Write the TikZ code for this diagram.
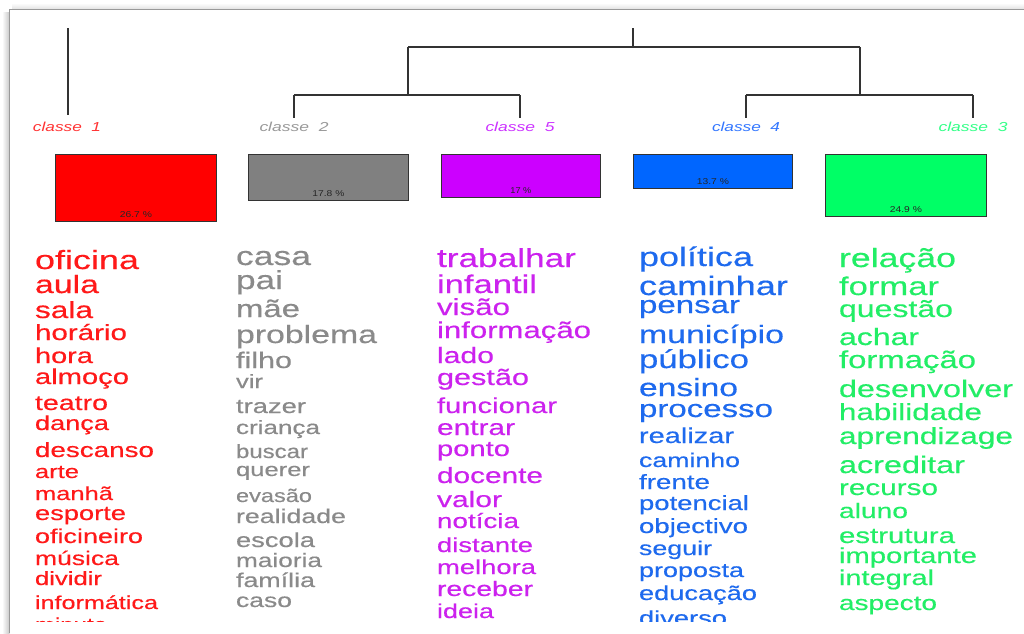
\documentclass[tikz,border=0pt]{standalone}
\usepackage{fontspec}
\setmainfont{Liberation Sans}
\newfontfamily\wfont[FakeBold=0.35]{Liberation Sans}
\usepackage{graphicx}
\definecolor{bred}{HTML}{FF0000}
\definecolor{bgray}{HTML}{808080}
\definecolor{bpurp}{HTML}{CC00FF}
\definecolor{bblue}{HTML}{0066FF}
\definecolor{bgreen}{HTML}{00FF66}
\definecolor{tred}{HTML}{FF1919}
\definecolor{tgray}{HTML}{8A8A8A}
\definecolor{tpurp}{HTML}{CC22EE}
\definecolor{tblue}{HTML}{1E6AEE}
\definecolor{tgreen}{HTML}{22EE66}
\definecolor{lred}{HTML}{FF3333}
\definecolor{lgray}{HTML}{999999}
\definecolor{lpurp}{HTML}{CC33FF}
\definecolor{lblue}{HTML}{3377FF}
\definecolor{lgreen}{HTML}{33FF88}
\def\vratio{1.35}
\tikzset{
  wordnode/.style={anchor=base west, inner sep=0pt, outer sep=0pt},
  clabel/.style={anchor=base, inner sep=0pt, outer sep=0pt},
  clbox/.style={draw=black!80, line width=0.8pt, anchor=north west, inner sep=0pt},
  pct/.style={inner sep=0pt, text=black!85},
  dend/.style={draw=black!80, line width=1.1pt},
}
% colour, name, x, baseline, width, horizontal em, text
\newcommand{\Wrd}[7]{\node[wordnode,text=#1] (#2) at (#3,#4) {\pgfmathsetmacro\fsz{#6/\vratio}\resizebox{#5pt}{\height}{\wfont\fontsize{\fsz}{\fsz}\selectfont #7}};}
\newcommand{\Sq}[3]{\resizebox{#1pt}{\height}{\fontsize{#2}{#2}\selectfont #3}}
\begin{document}
\begin{tikzpicture}[x=1pt,y=-1pt]
\useasboundingbox (0,0) rectangle (1024,633);
\fill[white] (0,0) rectangle (1024,633);
% frame with shadow
\shade[left color=white, right color=black!22] (2,12) rectangle (9.5,633);
\shade[top color=white, bottom color=black!12] (12,3) rectangle (1024,9.5);
\draw[black!40, line width=0.9pt] (9.5,633) -- (9.5,9.5) -- (1024,9.5);

% dendrogram coordinates
\coordinate (a1) at (68,28);
\coordinate (a1b) at (68,115);
\coordinate (root) at (633,28);
\coordinate (rootb) at (633,47);
\coordinate (hl) at (408,47);
\coordinate (hr) at (860,47);
\coordinate (hlb) at (408,95);
\coordinate (hrb) at (860,95);
\coordinate (c2t) at (294,95);
\coordinate (c5t) at (520,95);
\coordinate (c4t) at (746,95);
\coordinate (c3t) at (973,95);
\coordinate (c2b) at (294,118);
\coordinate (c5b) at (520,118);
\coordinate (c4b) at (746,118);
\coordinate (c3b) at (973,118);
\draw[dend] (a1) -- (a1b);
\draw[dend] (root) -- (rootb);
\draw[dend] (hl) -- (hr);
\draw[dend] (hl) -- (hlb);
\draw[dend] (hr) -- (hrb);
\draw[dend] (c2t) -- (c5t);
\draw[dend] (c4t) -- (c3t);
\draw[dend] (c2t) -- (c2b);
\draw[dend] (c5t) -- (c5b);
\draw[dend] (c4t) -- (c4b);
\draw[dend] (c3t) -- (c3b);

% class labels
\node[clabel, text=lred]   (k1) at (67,131)  {\Sq{68}{13}{\itshape classe\ \ 1}};
\node[clabel, text=lgray]  (k2) at (294,131) {\Sq{69}{13}{\itshape classe\ \ 2}};
\node[clabel, text=lpurp]  (k5) at (520,131) {\Sq{69}{13}{\itshape classe\ \ 5}};
\node[clabel, text=lblue]  (k4) at (746,131) {\Sq{68}{13}{\itshape classe\ \ 4}};
\node[clabel, text=lgreen] (k3) at (973,131) {\Sq{69}{13}{\itshape classe\ \ 3}};

% boxes
\node[clbox, fill=bred,   minimum width=161pt, minimum height=67pt] (b1) at (55,154) {};
\node[clbox, fill=bgray,  minimum width=160pt, minimum height=46pt] (b2) at (248,154) {};
\node[clbox, fill=bpurp,  minimum width=159pt, minimum height=43pt] (b5) at (441,154) {};
\node[clbox, fill=bblue,  minimum width=159pt, minimum height=34pt] (b4) at (633,154) {};
\node[clbox, fill=bgreen, minimum width=161pt, minimum height=62pt] (b3) at (825,154) {};
\node[pct] (p1) at ([yshift=7pt]b1.south) {\Sq{32}{8.5}{26.7 \%}};
\node[pct] (p2) at ([yshift=7pt]b2.south) {\Sq{32}{8.5}{17.8 \%}};
\node[pct] (p5) at ([yshift=7pt]b5.south) {\Sq{21}{8.5}{17 \%}};
\node[pct] (p4) at ([yshift=7pt]b4.south) {\Sq{32}{8.5}{13.7 \%}};
\node[pct] (p3) at ([yshift=7pt]b3.south) {\Sq{32}{8.5}{24.9 \%}};

\begin{scope}
\clip (10,230) rectangle (1024,621);
% classe 1
\Wrd{tred}{r1}{35}{269}{104}{35.6}{oficina}
\Wrd{tred}{r2}{35}{293}{64}{33.9}{aula}
\Wrd{tred}{r3}{35}{318}{58}{31.6}{sala}
\Wrd{tred}{r4}{35}{340}{92}{29.6}{horário}
\Wrd{tred}{r5}{35}{363}{58}{29}{hora}
\Wrd{tred}{r6}{35}{384}{94}{29.2}{almoço}
\Wrd{tred}{r7}{35}{410}{73}{28.5}{teatro}
\Wrd{tred}{r8}{35}{430}{74}{27.2}{dança}
\Wrd{tred}{r9}{35}{457}{119}{27.8}{descanso}
\Wrd{tred}{r10}{35}{478}{44}{25.5}{arte}
\Wrd{tred}{r11}{35}{500}{78}{25.5}{manhã}
\Wrd{tred}{r12}{35}{520}{91}{27.3}{esporte}
\Wrd{tred}{r13}{35}{543}{108}{27}{oficineiro}
\Wrd{tred}{r14}{35}{565}{84}{26.5}{música}
\Wrd{tred}{r15}{35}{585}{67}{25.7}{dividir}
\Wrd{tred}{r16}{35}{609}{123}{25.2}{informática}
\Wrd{tred}{r17}{35}{631}{72}{25.2}{minuto}
% classe 2
\Wrd{tgray}{g1}{236}{265}{75}{35.5}{casa}
\Wrd{tgray}{g2}{236}{289}{47}{35.2}{pai}
\Wrd{tgray}{g3}{236}{317}{64}{33}{mãe}
\Wrd{tgray}{g4}{236}{343}{141}{33.9}{problema}
\Wrd{tgray}{g5}{236}{368}{56}{30.5}{filho}
\Wrd{tgray}{g6}{236}{388}{27}{26}{vir}
\Wrd{tgray}{g7}{236}{413}{70}{27.4}{trazer}
\Wrd{tgray}{g8}{236}{434}{84}{26}{criança}
\Wrd{tgray}{g9}{236}{458}{72}{26}{buscar}
\Wrd{tgray}{g10}{236}{476}{74}{25.6}{querer}
\Wrd{tgray}{g11}{236}{502}{76}{25}{evasão}
\Wrd{tgray}{g12}{236}{523}{110}{26.7}{realidade}
\Wrd{tgray}{g13}{236}{547}{79}{27.3}{escola}
\Wrd{tgray}{g14}{236}{567}{86}{26.2}{maioria}
\Wrd{tgray}{g15}{236}{587}{79}{26.8}{família}
\Wrd{tgray}{g16}{236}{607}{56}{26.5}{caso}
% classe 5
\Wrd{tpurp}{v1}{437}{267}{139}{35.2}{trabalhar}
\Wrd{tpurp}{v2}{437}{293}{100}{34.6}{infantil}
\Wrd{tpurp}{v3}{437}{315}{73}{31.3}{visão}
\Wrd{tpurp}{v4}{437}{338}{154}{31.1}{informação}
\Wrd{tpurp}{v5}{437}{363}{57}{30.2}{lado}
\Wrd{tpurp}{v6}{437}{385}{92}{30.6}{gestão}
\Wrd{tpurp}{v7}{437}{413}{120}{29.2}{funcionar}
\Wrd{tpurp}{v8}{437}{435}{78}{29.9}{entrar}
\Wrd{tpurp}{v9}{437}{456}{73}{29.2}{ponto}
\Wrd{tpurp}{v10}{437}{483}{106}{29.8}{docente}
\Wrd{tpurp}{v11}{437}{507}{65}{30}{valor}
\Wrd{tpurp}{v12}{437}{528}{82}{27.8}{notícia}
\Wrd{tpurp}{v13}{437}{552}{96}{27.4}{distante}
\Wrd{tpurp}{v14}{437}{574}{99}{27.4}{melhora}
\Wrd{tpurp}{v15}{437}{596}{96}{28.3}{receber}
\Wrd{tpurp}{v16}{437}{618}{57}{27}{ideia}
% classe 4
\Wrd{tblue}{u1}{639}{266}{114}{36}{política}
\Wrd{tblue}{u2}{639}{295}{149}{36.2}{caminhar}
\Wrd{tblue}{u3}{639}{313}{101}{33}{pensar}
\Wrd{tblue}{u4}{639}{343}{145}{33.9}{município}
\Wrd{tblue}{u5}{639}{368}{110}{34.7}{público}
\Wrd{tblue}{u6}{639}{396}{99}{33.6}{ensino}
\Wrd{tblue}{u7}{639}{417}{134}{33}{processo}
\Wrd{tblue}{u8}{639}{443}{95}{29}{realizar}
\Wrd{tblue}{u9}{639}{467}{101}{26.7}{caminho}
\Wrd{tblue}{u10}{639}{489}{71}{27.8}{frente}
\Wrd{tblue}{u11}{639}{510}{110}{27.5}{potencial}
\Wrd{tblue}{u12}{639}{533}{109}{27.6}{objectivo}
\Wrd{tblue}{u13}{639}{555}{73}{26.8}{seguir}
\Wrd{tblue}{u14}{639}{577}{105}{27}{proposta}
\Wrd{tblue}{u15}{639}{600}{118}{27.2}{educação}
\Wrd{tblue}{u16}{639}{625}{88}{27.3}{diverso}
% classe 3
\Wrd{tgreen}{e1}{839}{267}{117}{35.7}{relação}
\Wrd{tgreen}{e2}{839}{295}{100}{34.6}{formar}
\Wrd{tgreen}{e3}{839}{317}{114}{32}{questão}
\Wrd{tgreen}{e4}{839}{345}{80}{32}{achar}
\Wrd{tgreen}{e5}{839}{368}{137}{32.9}{formação}
\Wrd{tgreen}{e6}{839}{397}{174}{32.3}{desenvolver}
\Wrd{tgreen}{e7}{839}{420}{143}{31.4}{habilidade}
\Wrd{tgreen}{e8}{839}{444}{174}{31.6}{aprendizage}
\Wrd{tgreen}{e9}{839}{473}{126}{32.4}{acreditar}
\Wrd{tgreen}{e10}{839}{495}{99}{29.7}{recurso}
\Wrd{tgreen}{e11}{839}{518}{69}{28.2}{aluno}
\Wrd{tgreen}{e12}{839}{543}{116}{29.4}{estrutura}
\Wrd{tgreen}{e13}{839}{563}{138}{29.2}{importante}
\Wrd{tgreen}{e14}{839}{585}{95}{29}{integral}
\Wrd{tgreen}{e15}{839}{610}{98}{28}{aspecto}
\end{scope}
\end{tikzpicture}
\end{document}
